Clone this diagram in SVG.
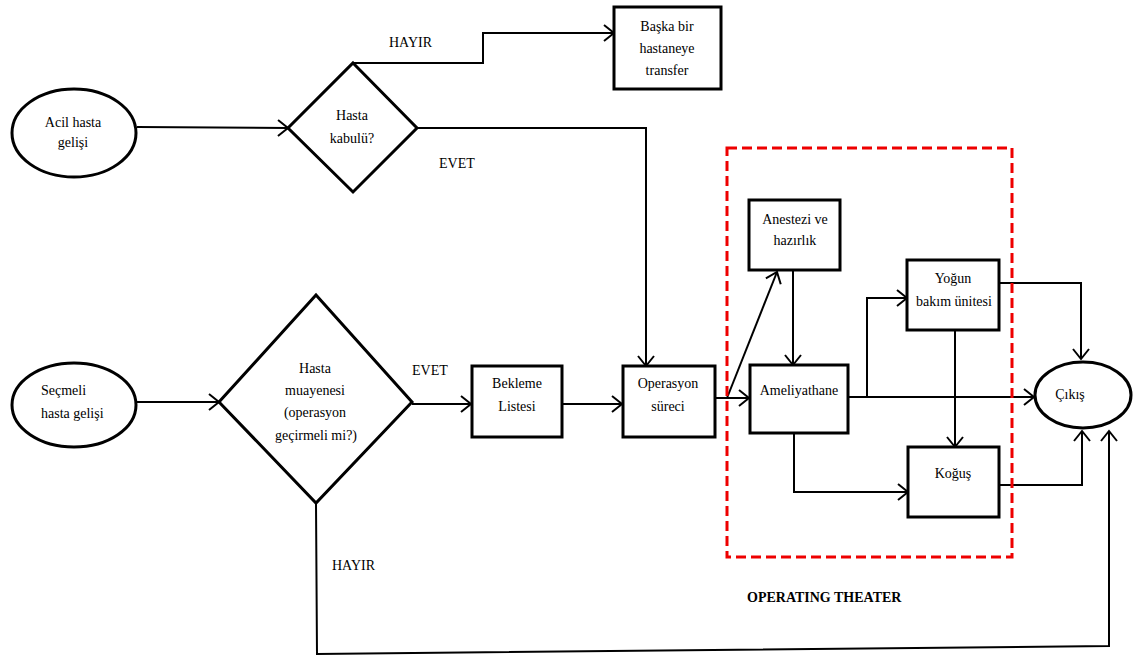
<svg xmlns="http://www.w3.org/2000/svg" width="1133" height="657" viewBox="0 0 1133 657" font-family="'Liberation Serif', 'Times New Roman', 'DejaVu Serif', serif">
<defs>
<marker id="arr" markerUnits="userSpaceOnUse" markerWidth="14" markerHeight="20" refX="12" refY="9" orient="auto">
<path d="M2,1 L12,9 L2,17" fill="none" stroke="#000" stroke-width="2"/>
</marker>
<style>
.n{fill:#fff;stroke:#000;stroke-width:3}
text{font-family:'Liberation Serif','Times New Roman','DejaVu Serif',serif;font-size:14px;fill:#000}
.t{text-anchor:middle}
.c{fill:none;stroke:#000;stroke-width:2}
.ca{fill:none;stroke:#000;stroke-width:2;marker-end:url(#arr)}
</style>
</defs>
<rect width="1133" height="657" fill="#fff"/>
<g id="connectors">
<path class="ca" d="M137,127 L288,128"/>
<path class="ca" d="M353,63 L483,63 L483,33 L614,33"/>
<path class="ca" d="M417,128 L646,128 L646,366"/>
<path class="ca" d="M137,402 L219,402"/>
<path class="ca" d="M412,404 L471,404"/>
<path class="ca" d="M562,404 L622,404"/>
<path class="ca" d="M715,398 L749,398"/>
<path class="ca" d="M727,398 L777,272"/>
<path class="ca" d="M793,270 L793,365"/>
<path class="ca" d="M848,397 L1034,397"/>
<path class="ca" d="M867,397 L867,298 L907,298"/>
<path class="ca" d="M999,283 L1081,283 L1081,359"/>
<path class="ca" d="M955,330 L955,447"/>
<path class="ca" d="M794,433 L794,492 L908,492"/>
<path class="ca" d="M999,485 L1082,485 L1082,431"/>
<path class="ca" d="M316,503 L317,654 L1109,646 L1109,431"/>
</g>
<rect id="operating-theater" x="727" y="148" width="285" height="409" fill="none" stroke="#e00" stroke-width="3" stroke-dasharray="10,5"/>
<g id="acil">
<ellipse class="n" cx="74" cy="133" rx="62" ry="44"/>
<text class="t" x="73" y="127">Acil hasta</text>
<text class="t" x="73" y="147">gelişi</text>
</g>
<g id="kabul">
<polygon class="n" points="353,63 417,128 353,192 288,128"/>
<text class="t" x="352" y="120">Hasta</text>
<text class="t" x="352" y="143">kabulü?</text>
</g>
<g id="transfer">
<rect class="n" x="614" y="7" width="107" height="82"/>
<text class="t" x="667" y="31">Başka bir</text>
<text class="t" x="667" y="53">hastaneye</text>
<text class="t" x="667" y="75">transfer</text>
</g>
<g id="secmeli">
<ellipse class="n" cx="74" cy="405" rx="62" ry="42"/>
<text x="41" y="395">Seçmeli</text>
<text x="41" y="418">hasta gelişi</text>
</g>
<g id="muayene">
<polygon class="n" points="316,295 412,402 316,503 219,402"/>
<text class="t" x="315" y="373">Hasta</text>
<text class="t" x="315" y="395">muayenesi</text>
<text class="t" x="315" y="417">(operasyon</text>
<text class="t" x="316" y="440">geçirmeli mi?)</text>
</g>
<g id="bekleme">
<rect class="n" x="472" y="366" width="90" height="71"/>
<text class="t" x="517" y="388">Bekleme</text>
<text class="t" x="517" y="411">Listesi</text>
</g>
<g id="operasyon">
<rect class="n" x="623" y="366" width="92" height="71"/>
<text class="t" x="668" y="388">Operasyon</text>
<text class="t" x="668" y="411">süreci</text>
</g>
<g id="anestezi">
<rect class="n" x="749" y="200" width="91" height="70"/>
<text class="t" x="795" y="224">Anestezi ve</text>
<text class="t" x="795" y="245">hazırlık</text>
</g>
<g id="ameliyathane">
<rect class="n" x="750" y="365" width="98" height="68"/>
<text class="t" x="799" y="395">Ameliyathane</text>
</g>
<g id="yogun">
<rect class="n" x="907" y="260" width="92" height="70"/>
<text class="t" x="953" y="283">Yoğun</text>
<text class="t" x="954" y="306">bakım ünitesi</text>
</g>
<g id="kogus">
<rect class="n" x="908" y="447" width="91" height="70"/>
<text class="t" x="953" y="478">Koğuş</text>
</g>
<g id="cikis">
<ellipse class="n" cx="1083" cy="395" rx="48" ry="33"/>
<text class="t" x="1070" y="399">Çıkış</text>
</g>
<g id="labels">
<text x="389" y="47">HAYIR</text>
<text x="439" y="168">EVET</text>
<text x="412" y="375">EVET</text>
<text x="332" y="570">HAYIR</text>
<text x="747" y="602" font-weight="bold">OPERATING THEATER</text>
</g>
</svg>
